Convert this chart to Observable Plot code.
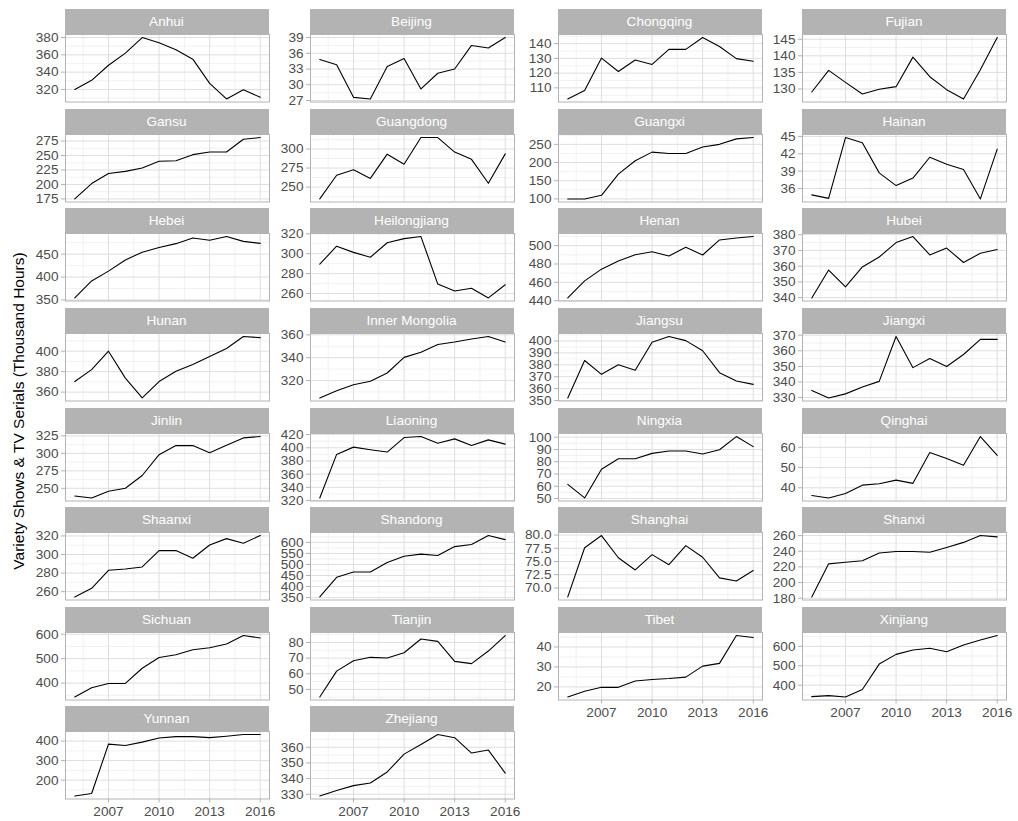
<!DOCTYPE html>
<html><head><meta charset="utf-8">
<script src="https://cdn.jsdelivr.net/npm/d3@7"></script>
<script src="https://cdn.jsdelivr.net/npm/@observablehq/plot@0.6"></script>
<style>
body{margin:0;background:#fff;font-family:"Liberation Sans",Arial,sans-serif;}
#chart{position:relative;width:1018px;height:821px;overflow:hidden;background:#fff;}
.strip{position:absolute;background:#B3B3B3;color:#fff;font-size:13.6px;text-align:center;height:25px;line-height:25px;}
.ytitle{position:absolute;left:19px;top:411px;white-space:nowrap;font-size:15.5px;color:#000;transform:translate(-50%,-50%) rotate(-90deg);}
svg{position:absolute;overflow:visible;}
</style></head><body><div id="chart"></div>
<script>
const years = [2005,2006,2007,2008,2009,2010,2011,2012,2013,2014,2015,2016];
const provinces = ["Anhui","Beijing","Chongqing","Fujian","Gansu","Guangdong","Guangxi","Hainan","Hebei","Heilongjiang","Henan","Hubei","Hunan","Inner Mongolia","Jiangsu","Jiangxi","Jinlin","Liaoning","Ningxia","Qinghai","Shaanxi","Shandong","Shanghai","Shanxi","Sichuan","Tianjin","Tibet","Xinjiang","Yunnan","Zhejiang"];
const yTitle = "Variety Shows & TV Serials (Thousand Hours)";

const anhui = [320,330.5,348,362,380,374,366,355,327,309,319.5,311];
const beijing = [34.8,33.8,27.6,27.3,33.5,35.0,29.2,32.2,33.0,37.5,37.0,39.0];
const chongqing = [102.5,108.2,130.2,121.1,128.9,125.9,136.1,136.1,144.1,138,129.8,128];
const fujian = [129.1,135.6,132.0,128.5,129.9,130.7,139.6,133.7,129.8,127.0,135.8,145.5];
const gansu = [175,201.5,219,222.6,228.5,240,241,251.5,256,256,278,281];
const guangdong = [234.5,265.5,272.7,261.4,293.2,280,315,315,296,286.4,255,293.6];
const guangxi = [100,100,110,168,205,228.6,225,225,242.5,250,265,268.6];
const hainan = [34.9,34.3,44.8,43.9,38.7,36.5,37.8,41.4,40.2,39.3,34.2,42.8];
const hebei = [354.4,391.5,413,437.4,454.4,464.8,473,485.5,480.4,488.5,478,473.7];
const heilongjiang = [289.5,307.5,301.3,296.4,311,315.1,317.2,269.4,262.5,265.3,255.5,268.7];
const henan = [443,461.6,474.4,483.2,490.1,493.4,488.7,498.2,489.8,506.2,508.4,509.9];
const hubei = [339.8,357.5,346.8,359.5,365.8,375,378.8,367.1,371.5,362.3,368.2,370.6];
const hunan = [370.3,382,400,373.7,354.3,370.3,380.3,387,394.7,402.7,414.3,413.3];
const innerMongolia = [304.8,311,316.4,319.4,326.6,340.3,344.8,351.6,353.7,356.4,358.5,353.7];
const jiangsu = [352.2,383.6,372,380,375.4,398.9,403.7,400.3,391.8,373.4,366.4,363.6];
const jiangxi = [334.6,329.8,332.4,336.8,340.4,369.1,349.2,355,349.9,357.6,367.3,367.3];
const jinlin = [239,236.2,245.7,250,268.3,298.1,311.1,311.1,301,311.5,322.1,324];
const liaoning = [324,390,401,397,393.5,415.5,417,407,413.5,403.5,412,405.5];
const ningxia = [61.5,50.5,73.9,82.4,82.4,86.8,88.7,88.7,86.3,89.8,100.5,92.3];
const qinghai = [36.2,35,37.2,41.3,42,43.8,42.2,57.4,54.5,51.1,65.3,56];
const shaanxi = [254.3,263.6,283,284.4,286.6,304.2,304.2,296,310.3,317.1,312.1,320.4];
const shandong = [353,442,466,466,509,537.5,547,540.6,581,590.6,631,612.5];
const shanghai = [68.3,77.6,79.9,75.7,73.4,76.3,74.4,78,75.8,71.9,71.3,73.3];
const shanxi = [181.7,223.9,226,227.8,237.8,239.6,239.6,238.7,244.8,251.3,260,258.3];
const sichuan = [343.4,380.7,398.6,398.6,460.7,504.8,515.9,536.6,544.8,560,594.5,584.8];
const tianjin = [45.2,61.7,68.3,70.5,70.1,73.4,82.2,80.7,67.9,66.5,74.5,84.4];
const tibet = [15,17.8,19.8,19.8,23,23.7,24.2,24.9,30.4,31.8,45.7,44.7];
const xinjiang = [341.4,346.6,339.7,377.6,508.6,558.6,581,589.7,572.4,606.9,632.8,655.2];
const yunnan = [119.3,131.6,384.2,377.2,394.7,415.8,422.8,422.8,417.5,424.6,433.3,433.3];
const zhejiang = [328.9,332.4,335.5,337.2,344.2,355.6,361.8,368.1,366.1,356.3,358.2,343.5];

const xTicks = [2007,2010,2013,2016];
const anhuiTicks = [320,340,360,380];
const beijingTicks = [27,30,33,36,39];
const chongqingTicks = [110,120,130,140];
const fujianTicks = [130,135,140,145];
const gansuTicks = [175,200,225,250,275];
const guangdongTicks = [250,275,300];
const guangxiTicks = [100,150,200,250];
const hainanTicks = [36,39,42,45];
const hebeiTicks = [350,400,450];
const heilongjiangTicks = [260,280,300,320];
const henanTicks = [440,460,480,500];
const hubeiTicks = [340,350,360,370,380];
const hunanTicks = [360,380,400];
const innerMongoliaTicks = [320,340,360];
const jiangsuTicks = [350,360,370,380,390,400];
const jiangxiTicks = [330,340,350,360,370];
const jinlinTicks = [250,275,300,325];
const liaoningTicks = [320,340,360,380,400,420];
const ningxiaTicks = [50,60,70,80,90,100];
const qinghaiTicks = [40,50,60];
const shaanxiTicks = [260,280,300,320];
const shandongTicks = [350,400,450,500,550,600];
const shanghaiTicks = [70,72.5,75,77.5,80];
const shanxiTicks = [180,200,220,240,260];
const sichuanTicks = [400,500,600];
const tianjinTicks = [50,60,70,80];
const tibetTicks = [20,30,40];
const xinjiangTicks = [400,500,600];
const yunnanTicks = [200,300,400];
const zhejiangTicks = [330,340,350,360];

const seriesList = [anhui,beijing,chongqing,fujian,gansu,guangdong,guangxi,hainan,hebei,heilongjiang,henan,hubei,hunan,innerMongolia,jiangsu,jiangxi,jinlin,liaoning,ningxia,qinghai,shaanxi,shandong,shanghai,shanxi,sichuan,tianjin,tibet,xinjiang,yunnan,zhejiang];
const tickList = [anhuiTicks,beijingTicks,chongqingTicks,fujianTicks,gansuTicks,guangdongTicks,guangxiTicks,hainanTicks,hebeiTicks,heilongjiangTicks,henanTicks,hubeiTicks,hunanTicks,innerMongoliaTicks,jiangsuTicks,jiangxiTicks,jinlinTicks,liaoningTicks,ningxiaTicks,qinghaiTicks,shaanxiTicks,shandongTicks,shanghaiTicks,shanxiTicks,sichuanTicks,tianjinTicks,tibetTicks,xinjiangTicks,yunnanTicks,zhejiangTicks];

// layout
const colLeft = [64.5, 309.5, 557.5, 802];
const panelW = 204;
const stripH = 25, panelH = 67.5;
const rowTop = r => 9.3 + 99.55 * r;
const mL = 60;
const nCols = 4;
const n = provinces.length;

const chart = document.getElementById("chart");
const gridMajor = "#DEDEDE", gridMinor = "#EBEBEB", border = "#B3B3B3", textCol = "#4D4D4D";

function expand(ext, f) { const d = ext[1] - ext[0]; return [ext[0] - f * d, ext[1] + f * d]; }

const xDomain = expand([years[0], years[years.length - 1]], 0.05);
const xMinor = xTicks.map(t => t - 1.5).filter(t => t >= xDomain[0]);

provinces.forEach((name, i) => {
  const col = i % nCols, row = Math.floor(i / nCols);
  const below = i + nCols >= n; // last panel in its column
  const rows = years.map((y, k) => ({year: y, value: seriesList[i][k], province: name}));
  const yDomain = expand(d3.extent(rows, d => d.value), 0.05);
  const ticksAll = tickList[i];
  const yt = ticksAll.filter(t => t >= yDomain[0] - 1e-9 && t <= yDomain[1] + 1e-9);
  const step = ticksAll[1] - ticksAll[0];
  const minor = d3.range(ticksAll[0] - step / 2, ticksAll[ticksAll.length - 1] + step, step)
    .filter(t => t >= yDomain[0] && t <= yDomain[1]);
  const decimals = ticksAll.some(t => !Number.isInteger(t));
  const fmt = decimals ? (d => d.toFixed(1)) : (d => String(d));

  const strip = document.createElement("div");
  strip.className = "strip";
  strip.style.left = colLeft[col] + "px";
  strip.style.top = rowTop(row) + "px";
  strip.style.width = panelW + "px";
  strip.textContent = name;
  chart.appendChild(strip);

  const mB = below ? 26 : 0;
  const marks = [
    Plot.ruleY(minor, {stroke: gridMinor, strokeWidth: 0.7}),
    Plot.ruleX(xMinor, {stroke: gridMinor, strokeWidth: 0.7}),
    Plot.ruleY(yt, {stroke: gridMajor, strokeWidth: 1}),
    Plot.ruleX(xTicks, {stroke: gridMajor, strokeWidth: 1}),
    Plot.line(rows, {x: "year", y: "value", stroke: "#000", strokeWidth: 1.1}),
    Plot.frame({stroke: border, strokeWidth: 1}),
    Plot.axisY(yt, {anchor: "left", tickSize: 4, tickPadding: 3, stroke: border, fill: textCol, label: null, tickFormat: fmt})
  ];
  if (below) marks.push(Plot.axisX(xTicks, {anchor: "bottom", tickSize: 4, tickPadding: 3, stroke: border, fill: textCol, label: null, tickFormat: d => String(d)}));

  const svg = Plot.plot({
    width: mL + panelW,
    height: panelH + mB,
    marginLeft: mL, marginRight: 0, marginTop: 0, marginBottom: mB,
    x: {domain: xDomain, axis: null},
    y: {domain: yDomain, axis: null},
    style: {fontSize: "13.6px", fontFamily: '"Liberation Sans", Arial, sans-serif', background: "transparent", overflow: "visible", color: textCol},
    marks
  });
  svg.style.left = (colLeft[col] - mL) + "px";
  svg.style.top = (rowTop(row) + stripH) + "px";
  chart.appendChild(svg);
});

const yt = document.createElement("div");
yt.className = "ytitle";
yt.textContent = yTitle;
chart.appendChild(yt);
</script></body></html>
